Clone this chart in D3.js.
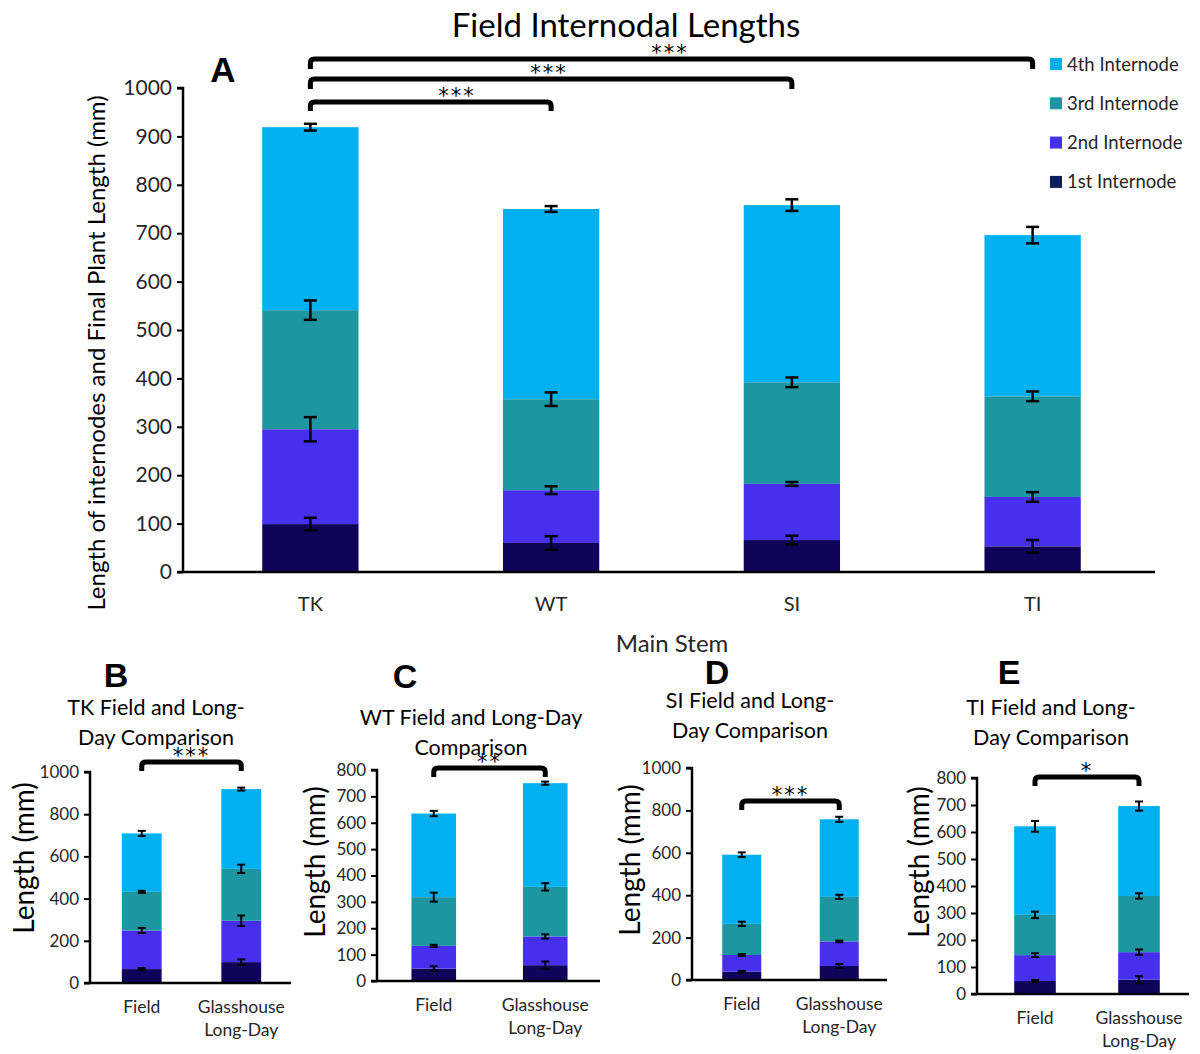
<html>
  <body style="margin:0;background:#fff">
    <script src="https://d3js.org/d3.v7.min.js"></script>
    <script>
      // internode order: 1st, 2nd, 3rd, 4th (bottom to top)
      const internodes = ['1st Internode', '2nd Internode', '3rd Internode', '4th Internode'];
      const internodeColors = ['#10045a', '#4630ee', '#1e96a2', '#00b0f0'];
      const legendColors = ['#0b1f5e', '#4630ee', '#1e96a2', '#00b0f0'];

      const mainCategories = ['TK', 'WT', 'SI', 'TI'];
      const compareCategories = ['Field', 'Glasshouse Long-Day'];

      // internode lengths (mm), main stem, field
      const tkLengths = [99, 196, 246, 378];
      const wtLengths = [60, 109, 188, 393];
      const siLengths = [66, 116, 210, 366];
      const tiLengths = [53, 102, 208, 333];
      const tkErrors = [13, 25, 20, 7];
      const wtErrors = [14, 8, 14, 6];
      const siErrors = [9, 4, 10, 12];
      const tiErrors = [13, 10, 10, 17];

      // second set used in the comparison panels
      const tkFieldLengths = [66, 183, 183, 277];
      const wtFieldLengths = [47, 86, 185, 317];
      const siFieldLengths = [39, 79, 147, 326];
      const tiFieldLengths = [48, 96, 149, 328];
      const tkFieldErrors = [5, 12, 5, 12];
      const wtFieldErrors = [9, 4, 17, 10];
      const siFieldErrors = [4, 4, 10, 11];
      const tiFieldErrors = [4, 7, 12, 20];

      const font = 'Lato, Carlito, sans-serif';
      const svg = d3.select('body').append('svg').attr('width', 1200).attr('height', 1054);

      function buildRows(cats, lengths, errors) {
        return cats.map((c, i) => {
          const row = { cat: c, err: errors[i] };
          internodes.forEach((k, j) => (row[k] = lengths[i][j]));
          return row;
        });
      }

      function drawBracket(g, x1, x2, y, drop, label, fontSize, labelX) {
        const r = 4;
        g.append('path')
          .attr('d', `M${x1},${y + drop} L${x1},${y + r} Q${x1},${y} ${x1 + r},${y} L${x2 - r},${y} Q${x2},${y} ${x2},${y + r} L${x2},${y + drop}`)
          .attr('fill', 'none')
          .attr('stroke', '#000')
          .attr('stroke-width', 5);
        g.append('text')
          .attr('x', labelX != null ? labelX : (x1 + x2) / 2)
          .attr('y', y + 1)
          .attr('text-anchor', 'middle')
          .style('font-family', 'DejaVu Sans, sans-serif')
          .style('font-size', fontSize + 'px')
          .style('letter-spacing', '2px')
          .text(label);
      }

      function stackedPanel(cfg) {
        const g = svg.append('g');
        const rows = buildRows(cfg.categories, cfg.lengths, cfg.errors);
        const series = d3.stack().keys(internodes)(rows);

        const x = d3.scaleBand().domain(cfg.categories).range(cfg.xRange).paddingInner(0.6).paddingOuter(0.3);
        const y = d3.scaleLinear().domain([0, cfg.yMax]).range([cfg.yBottom, cfg.yTop]);

        // bars
        g.selectAll('g.layer')
          .data(series)
          .join('g')
          .attr('class', 'layer')
          .attr('fill', (d, i) => internodeColors[i])
          .selectAll('rect')
          .data((d) => d)
          .join('rect')
          .attr('x', (d) => x(d.data.cat))
          .attr('width', x.bandwidth())
          .attr('y', (d) => y(d[1]))
          .attr('height', (d) => y(d[0]) - y(d[1]));

        // error bars at the top of every segment
        const errs = [];
        series.forEach((s, j) => s.forEach((d) => errs.push({ cat: d.data.cat, top: d[1], e: d.data.err[j] })));
        const eg = g.append('g').attr('stroke', '#000').attr('stroke-width', cfg.errStroke);
        errs.forEach((d) => {
          const cx = x(d.cat) + x.bandwidth() / 2;
          const y1 = y(d.top + d.e), y2 = y(d.top - d.e);
          eg.append('line').attr('x1', cx).attr('x2', cx).attr('y1', y1).attr('y2', y2);
          eg.append('line').attr('x1', cx - cfg.cap).attr('x2', cx + cfg.cap).attr('y1', y1).attr('y2', y1);
          eg.append('line').attr('x1', cx - cfg.cap).attr('x2', cx + cfg.cap).attr('y1', y2).attr('y2', y2);
        });

        // y axis
        const yAxis = d3.axisLeft(y)
          .tickValues(d3.range(0, cfg.yMax + 1, cfg.tickStep))
          .tickFormat(d3.format('d'))
          .tickSize(6)
          .tickPadding(5);
        const ya = g.append('g').attr('transform', `translate(${cfg.axisX},0)`).call(yAxis);
        ya.select('.domain').attr('stroke-width', 2.5).attr('d', `M-6,${cfg.yTop}H0V${cfg.yBottom}`);
        ya.selectAll('.tick line').attr('stroke-width', 2);
        ya.selectAll('.tick text')
          .style('font-family', font)
          .style('font-size', cfg.tickFont + 'px')
          .attr('fill', '#262626');

        // x axis line
        g.append('line')
          .attr('x1', cfg.axisX - 6).attr('x2', cfg.axisEnd)
          .attr('y1', cfg.yBottom).attr('y2', cfg.yBottom)
          .attr('stroke', '#000').attr('stroke-width', 2.5);

        // category labels (split on space for the two-line one)
        cfg.categories.forEach((c) => {
          const lines = cfg.splitLabels ? c.split(' ') : [c];
          const t = g.append('text')
            .attr('text-anchor', 'middle')
            .attr('x', x(c) + x.bandwidth() / 2)
            .attr('y', cfg.yBottom + cfg.catOffset)
            .style('font-family', font)
            .style('font-size', cfg.catFont + 'px')
            .attr('fill', '#262626');
          lines.forEach((l, i) => t.append('tspan').attr('x', x(c) + x.bandwidth() / 2).attr('dy', i === 0 ? 0 : cfg.catLine).text(l));
        });

        // y label
        g.append('text')
          .attr('transform', `translate(${cfg.yLabelX},${cfg.yLabelY}) rotate(-90)`)
          .attr('text-anchor', 'middle')
          .style('font-family', font)
          .style('font-size', cfg.yLabelFont + 'px')
          .attr('fill', '#000')
          .text(cfg.yLabel);

        // panel letter
        g.append('text')
          .attr('x', cfg.letterX).attr('y', cfg.letterY)
          .attr('text-anchor', 'middle')
          .style('font-family', 'Liberation Sans, Arial, sans-serif')
          .style('font-weight', 'bold')
          .style('font-size', cfg.letterFont + 'px')
          .text(cfg.letter);

        // title lines
        cfg.title.forEach((t, i) => {
          g.append('text')
            .attr('x', cfg.titleX).attr('y', cfg.titleY + i * 30)
            .attr('text-anchor', 'middle')
            .style('font-family', font)
            .style('font-size', cfg.titleFont + 'px')
            .attr('fill', '#000')
            .text(t);
        });

        // significance brackets
        cfg.brackets.forEach((b) => {
          const cx = (c) => x(c) + x.bandwidth() / 2;
          drawBracket(g, cx(b.from), cx(b.to), b.y, b.drop, b.label, b.font, b.labelX);
        });

        return { g, x, y };
      }

      // Panel A
      stackedPanel({
        categories: mainCategories,
        lengths: [tkLengths, wtLengths, siLengths, tiLengths],
        errors: [tkErrors, wtErrors, siErrors, tiErrors],
        xRange: [190, 1153], axisX: 183, axisEnd: 1155,
        yTop: 88, yBottom: 572, yMax: 1000, tickStep: 100, tickFont: 21,
        cap: 6.5, errStroke: 2.5,
        catFont: 20, catOffset: 39, catLine: 24, splitLabels: false,
        yLabel: 'Length of internodes and Final Plant Length (mm)', yLabelX: 105, yLabelY: 353, yLabelFont: 24,
        letter: 'A', letterX: 223, letterY: 82, letterFont: 35,
        title: ['Field Internodal Lengths'], titleX: 626, titleY: 37, titleFont: 33,
        brackets: [
          { from: 'TK', to: 'TI', y: 59, drop: 10, label: '***', font: 21, labelX: 670 },
          { from: 'TK', to: 'SI', y: 79, drop: 10, label: '***', font: 21, labelX: 549 },
          { from: 'TK', to: 'WT', y: 102, drop: 9, label: '***', font: 21, labelX: 457 },
        ],
      });

      // Legend for A
      const legend = svg.append('g');
      internodes.slice().reverse().forEach((name, i) => {
        const idx = internodes.length - 1 - i;
        legend.append('rect').attr('x', 1050).attr('y', 58 + i * 39.3).attr('width', 12).attr('height', 12).attr('fill', legendColors[idx]);
        legend.append('text').attr('x', 1067).attr('y', 70.5 + i * 39.3)
          .style('font-family', font).style('font-size', '18.5px').attr('fill', '#262626').text(name);
      });

      svg.append('text').attr('x', 672).attr('y', 652).attr('text-anchor', 'middle')
        .style('font-family', font).style('font-size', '24px').attr('fill', '#262626').text('Main Stem');

      const small = {
        catFont: 17.5, catOffset: 30, catLine: 23, splitLabels: true, cap: 4, errStroke: 2,
        tickFont: 17, yLabel: 'Length (mm)', yLabelFont: 28, titleFont: 21.5, letterFont: 34,
      };

      // Panel B
      stackedPanel(Object.assign({}, small, {
        categories: compareCategories,
        lengths: [tkFieldLengths, tkLengths], errors: [tkFieldErrors, tkErrors],
        xRange: [92, 291], axisX: 90, axisEnd: 291,
        yTop: 772, yBottom: 983, yMax: 1000, tickStep: 200,
        yLabelX: 34, yLabelY: 858,
        letter: 'B', letterX: 116, letterY: 687,
        title: ['TK Field and Long-', 'Day Comparison'], titleX: 156, titleY: 715,
        brackets: [{ from: 'Field', to: 'Glasshouse Long-Day', y: 762, drop: 9, label: '***', font: 21 }],
      }));

      // Panel C
      stackedPanel(Object.assign({}, small, {
        categories: compareCategories,
        lengths: [wtFieldLengths, wtLengths], errors: [wtFieldErrors, wtErrors],
        xRange: [378, 601], axisX: 377, axisEnd: 600,
        yTop: 770, yBottom: 981, yMax: 800, tickStep: 100,
        yLabelX: 325, yLabelY: 862,
        letter: 'C', letterX: 405, letterY: 688,
        title: ['WT Field and Long-Day', 'Comparison'], titleX: 471, titleY: 725,
        brackets: [{ from: 'Field', to: 'Glasshouse Long-Day', y: 768, drop: 9, label: '**', font: 21 }],
      }));

      // Panel D
      stackedPanel(Object.assign({}, small, {
        categories: compareCategories,
        lengths: [siFieldLengths, siLengths], errors: [siFieldErrors, siErrors],
        xRange: [693, 888], axisX: 692, axisEnd: 887,
        yTop: 768, yBottom: 980, yMax: 1000, tickStep: 200,
        yLabelX: 640, yLabelY: 860,
        letter: 'D', letterX: 717, letterY: 684,
        title: ['SI Field and Long-', 'Day Comparison'], titleX: 750, titleY: 708,
        brackets: [{ from: 'Field', to: 'Glasshouse Long-Day', y: 801, drop: 9, label: '***', font: 21 }],
      }));

      // Panel E
      stackedPanel(Object.assign({}, small, {
        categories: compareCategories,
        lengths: [tiFieldLengths, tiLengths], errors: [tiFieldErrors, tiErrors],
        xRange: [983, 1191], axisX: 977, axisEnd: 1189,
        yTop: 778, yBottom: 994, yMax: 800, tickStep: 100,
        yLabelX: 929, yLabelY: 862,
        letter: 'E', letterX: 1009, letterY: 684,
        title: ['TI Field and Long-', 'Day Comparison'], titleX: 1051, titleY: 715,
        brackets: [{ from: 'Field', to: 'Glasshouse Long-Day', y: 777, drop: 9, label: '*', font: 21 }],
      }));
    </script>
  </body>
</html>
